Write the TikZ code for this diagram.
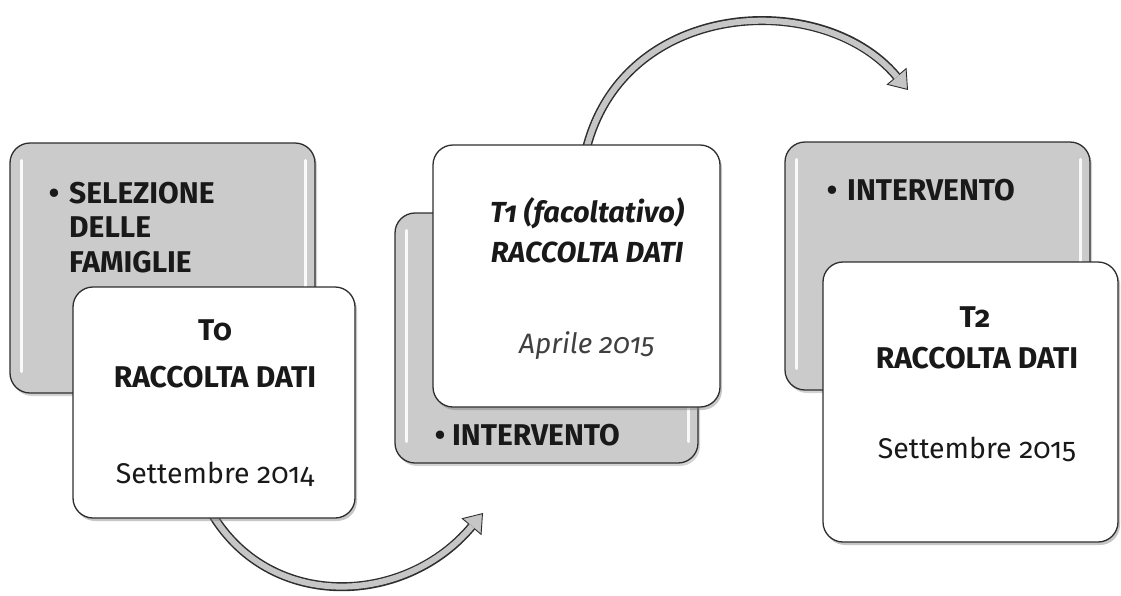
\documentclass[tikz,border=0pt]{standalone}
\usepackage{fontspec}
\setmainfont{Fira Sans}[Numbers=OldStyle]
\usetikzlibrary{arrows.meta,shadows}
\definecolor{boxgray}{HTML}{CBCBCB}
\definecolor{edge}{HTML}{2E2E2E}
\definecolor{arrowfill}{HTML}{C6C6C6}
\begin{document}
\begin{tikzpicture}[x=1pt,y=-1pt,
  graybox/.style={draw=edge, line width=1.3pt, fill=boxgray, rounded corners=20pt,
    drop shadow={shadow xshift=2pt, shadow yshift=-3pt, opacity=0.35}},
  whitebox/.style={draw=edge, line width=1.3pt, fill=white, rounded corners=20pt,
    drop shadow={shadow xshift=2pt, shadow yshift=-3pt, opacity=0.45}},
  hilite/.style={white, line width=3pt, line cap=round, opacity=0.9},
  txt/.style={inner sep=0pt, font=\fontsize{28.5}{34}\selectfont, text=black!90},
  btxt/.style={txt, font=\fontsize{30}{36}\selectfont\bfseries},
  bitxt/.style={txt, font=\fontsize{29}{35}\selectfont\bfseries\itshape},
  arrowline/.style={edge, line width=0.9pt, -{Triangle[length=18pt,width=26pt,fill=arrowfill]}},
  arrowband/.style={edge, line width=9pt, shorten >=18pt},
  arrowcore/.style={arrowfill, line width=6pt, shorten >=17pt}
]
\useasboundingbox (0,0) rectangle (1121,595);

% arrows (behind the boxes)
\coordinate (a1s) at (200,490);
\coordinate (a1e) at (483,513);
\coordinate (a2s) at (583,165);
\coordinate (a2e) at (908,90);
\foreach \st in {arrowline,arrowband,arrowcore}{
  \draw[\st] (a1s) .. controls (250,612) and (400,612) .. (a1e);
  \draw[\st] (a2s) .. controls (610,0) and (820,-15) .. (a2e);
}

% group 1
\node[graybox, minimum width=305pt, minimum height=250pt] (g1) at (162.5,268) {};
\draw[hilite] ([xshift=12pt,yshift=-18pt]g1.north west) -- ([xshift=12pt,yshift=22pt]g1.south west);
\draw[hilite] ([xshift=-10pt,yshift=-18pt]g1.north east) -- ([xshift=-10pt,yshift=22pt]g1.south east);
\node[btxt, anchor=base] (g1b) at (54,203) {•};
\node[btxt, anchor=base west] (g1t1) at (69,203) {SELEZIONE};
\node[btxt, anchor=base west] (g1t2) at (69,237) {DELLE};
\node[btxt, anchor=base west] (g1t3) at (69,272) {FAMIGLIE};
\node[whitebox, minimum width=282pt, minimum height=231pt] (w1) at (214,402.5) {};
\node[btxt, anchor=base] (w1t1) at (215,340) {T0};
\node[btxt, anchor=base] (w1t2) at (215,387) {RACCOLTA DATI};
\node[txt, anchor=base] (w1t3) at (215,483) {Settembre 2014};

% group 2
\node[graybox, minimum width=303pt, minimum height=250pt] (g2) at (546.5,338) {};
\draw[hilite] ([xshift=12pt,yshift=-18pt]g2.north west) -- ([xshift=12pt,yshift=22pt]g2.south west);
\draw[hilite] ([xshift=-10pt,yshift=-18pt]g2.north east) -- ([xshift=-10pt,yshift=22pt]g2.south east);
\node[btxt, anchor=base] (g2b) at (440,445) {•};
\node[btxt, anchor=base west] (g2t1) at (452,445) {INTERVENTO};
\node[whitebox, minimum width=287pt, minimum height=262pt] (w2) at (576.5,276) {};
\node[bitxt, anchor=base] (w2t1) at (587,222) {T1 (facoltativo)};
\node[bitxt, anchor=base] (w2t2) at (587,262) {RACCOLTA DATI};
\node[txt, anchor=base, font=\fontsize{28}{34}\selectfont\itshape, text=black!75] (w2t3) at (587,353) {Aprile 2015};

% group 3
\node[graybox, minimum width=305pt, minimum height=248pt] (g3) at (937.5,266) {};
\draw[hilite] ([xshift=12pt,yshift=-18pt]g3.north west) -- ([xshift=12pt,yshift=22pt]g3.south west);
\draw[hilite] ([xshift=-10pt,yshift=-18pt]g3.north east) -- ([xshift=-10pt,yshift=22pt]g3.south east);
\node[btxt, anchor=base] (g3b) at (832,200) {•};
\node[btxt, anchor=base west] (g3t1) at (847,200) {INTERVENTO};
\node[whitebox, minimum width=295pt, minimum height=280pt] (w3) at (970.5,402) {};
\node[btxt, anchor=base] (w3t1) at (975,327) {T2};
\node[btxt, anchor=base] (w3t2) at (977,368) {RACCOLTA DATI};
\node[txt, anchor=base] (w3t3) at (977,458) {Settembre 2015};
\end{tikzpicture}
\end{document}
